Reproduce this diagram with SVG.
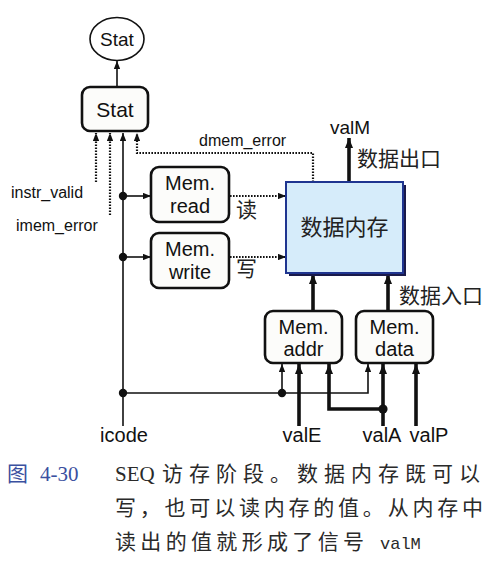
<svg xmlns="http://www.w3.org/2000/svg" width="499" height="586" viewBox="0 0 499 586">
  <style>
    .lbl { font-family: "Liberation Sans", Arial, sans-serif; fill: #111; }
    .cjk { font-family: "Noto Sans CJK SC", sans-serif; fill: #222; }
    .box { fill: #fcfcfa; stroke: #111; stroke-width: 2.6; }
    .thin { fill: none; stroke: #111; stroke-width: 1.6; }
    .thick { fill: none; stroke: #111; stroke-width: 3.6; }
    .dot { fill: none; stroke: #111; stroke-width: 2.2; stroke-dasharray: 1.6 1.4; }
    .cap { font-family: "Liberation Serif", "Noto Sans CJK SC", serif; fill: #2a2a2a; font-size: 21px; }
  </style>
  <defs>
    <marker id="ah" markerUnits="userSpaceOnUse" viewBox="0 0 10 8" refX="10" refY="4" markerWidth="8" markerHeight="6.4" orient="auto">
      <path d="M0,0 L10,4 L0,8 Z" fill="#111"/>
    </marker>
    <marker id="ahb" markerUnits="userSpaceOnUse" viewBox="0 0 10 8" refX="10" refY="4" markerWidth="10" markerHeight="8.5" orient="auto">
      <path d="M0,0 L10,4 L0,8 Z" fill="#111"/>
    </marker>
  </defs>
  <rect width="499" height="586" fill="#ffffff"/>

  <g id="connectors">
    <path class="thin" d="M117,87 V61" marker-end="url(#ah)"/>
    <path class="dot" d="M96,182 V133" marker-end="url(#ah)"/>
    <path class="dot" d="M110,215 V133" marker-end="url(#ah)"/>
    <path class="thin" d="M123,426 V133" marker-end="url(#ah)"/>
    <path class="dot" d="M313,182 V153 H137 V133" marker-end="url(#ah)"/>
    <path class="thin" d="M123,196 H151" marker-end="url(#ah)"/>
    <path class="thin" d="M123,257 H151" marker-end="url(#ah)"/>
    <path class="thin" d="M123,393 H368 V364" marker-end="url(#ah)"/>
    <path class="thin" d="M282,393 V364" marker-end="url(#ah)"/>
    <circle cx="123" cy="196" r="4.2" fill="#111"/>
    <circle cx="123" cy="257" r="4.2" fill="#111"/>
    <circle cx="123" cy="393" r="4.2" fill="#111"/>
    <circle cx="282" cy="393" r="4.2" fill="#111"/>
    <path class="dot" d="M230,196 H286" marker-end="url(#ah)"/>
    <path class="dot" d="M230,257 H286" marker-end="url(#ah)"/>
    <path class="thick" d="M299,426 V364" marker-end="url(#ahb)"/>
    <path class="thick" d="M383,426 V364" marker-end="url(#ahb)"/>
    <path class="thick" d="M383,409 H329 V364" marker-end="url(#ahb)"/>
    <circle cx="383" cy="409" r="4.6" fill="#111"/>
    <path class="thick" d="M416,426 V364" marker-end="url(#ahb)"/>
    <path class="thick" d="M313,311 V274" marker-end="url(#ahb)"/>
    <path class="thick" d="M388,311 V274" marker-end="url(#ahb)"/>
    <path class="thick" d="M349,182 V138" marker-end="url(#ahb)"/>
  </g>

  <g id="stat-out">
    <ellipse cx="117" cy="39" rx="27" ry="21.5" fill="#fff" stroke="#111" stroke-width="1.6"/>
    <text class="lbl" x="117" y="46" text-anchor="middle" font-size="19">Stat</text>
  </g>

  <g id="stat">
    <rect class="box" x="82" y="87" width="66" height="44" rx="8"/>
    <text class="lbl" x="115" y="117" text-anchor="middle" font-size="21">Stat</text>
  </g>

  <g id="mem-read">
    <rect class="box" x="151" y="167" width="78" height="55" rx="8"/>
    <text class="lbl" x="190" y="190" text-anchor="middle" font-size="20">Mem.</text>
    <text class="lbl" x="190" y="213" text-anchor="middle" font-size="20">read</text>
  </g>

  <g id="mem-write">
    <rect class="box" x="151" y="233" width="78" height="55" rx="8"/>
    <text class="lbl" x="190" y="256" text-anchor="middle" font-size="20">Mem.</text>
    <text class="lbl" x="190" y="279" text-anchor="middle" font-size="20">write</text>
  </g>

  <g id="data-memory">
    <rect x="289" y="185" width="117" height="91" fill="#1a1a4a"/>
    <rect x="286" y="182" width="117" height="91" fill="#d6ecfa" stroke="#1f3590" stroke-width="2"/>
    <text class="cjk" x="344.5" y="235" text-anchor="middle" font-size="22">数据内存</text>
  </g>

  <g id="mem-addr">
    <rect class="box" x="265" y="311" width="77" height="52" rx="8"/>
    <text class="lbl" x="303.5" y="334" text-anchor="middle" font-size="20">Mem.</text>
    <text class="lbl" x="303.5" y="356" text-anchor="middle" font-size="20">addr</text>
  </g>

  <g id="mem-data">
    <rect class="box" x="356" y="311" width="77" height="52" rx="8"/>
    <text class="lbl" x="394.5" y="334" text-anchor="middle" font-size="20">Mem.</text>
    <text class="lbl" x="394.5" y="356" text-anchor="middle" font-size="20">data</text>
  </g>

  <g id="labels">
    <text class="lbl" x="350" y="134" text-anchor="middle" font-size="19">valM</text>
    <text class="cjk" x="357" y="166" font-size="21">数据出口</text>
    <text class="cjk" x="399" y="303" font-size="21">数据入口</text>
    <text class="cjk" x="236" y="217" font-size="21">读</text>
    <text class="cjk" x="236" y="276" font-size="21">写</text>
    <text class="lbl" x="199" y="146" font-size="16">dmem_error</text>
    <text class="lbl" x="11" y="198" font-size="16">instr_valid</text>
    <text class="lbl" x="16" y="231" font-size="16">imem_error</text>
    <text class="lbl" x="124" y="442" text-anchor="middle" font-size="20">icode</text>
    <text class="lbl" x="302" y="442" text-anchor="middle" font-size="20">valE</text>
    <text class="lbl" x="382" y="442" text-anchor="middle" font-size="20">valA</text>
    <text class="lbl" x="429" y="442" text-anchor="middle" font-size="20">valP</text>
  </g>

  <g id="caption">
    <text class="cap" x="7" y="481" style="fill:#3a50a0">图</text>
    <text class="cap" x="40" y="481" style="fill:#3a50a0">4-30</text>
    <text class="cap" x="115" y="481">SEQ</text>
    <text class="cap" x="162" y="481" textLength="318" lengthAdjust="spacing">访存阶段。数据内存既可以</text>
    <text class="cap" x="115" y="515" textLength="368" lengthAdjust="spacing">写，也可以读内存的值。从内存中</text>
    <text class="cap" x="115" y="549" textLength="249" lengthAdjust="spacing">读出的值就形成了信号</text>
    <text x="380" y="549" font-family="'Liberation Mono', monospace" font-size="17" fill="#2a2a2a">valM</text>
  </g>
</svg>
